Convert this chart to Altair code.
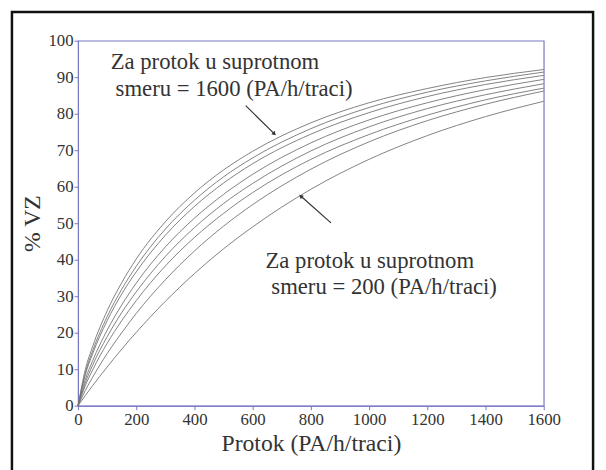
import altair as alt
import pandas as pd

# Flow (PA/h/traci) sample points
flow = [0, 25, 50, 100, 150, 200, 300, 400, 500, 600, 800, 1000, 1200, 1400, 1600]

# % VZ, one list per opposing flow
opposing = [200, 400, 600, 800, 1000, 1200, 1400, 1600]
vz = {
    200:  [0, 2.8, 5.5, 10.6, 15.5, 20.1, 28.6, 36.2, 43.0, 49.0, 59.3, 67.5, 74.0, 79.2, 83.4],
    400:  [0, 4.2, 7.8, 14.3, 20.0, 25.3, 34.5, 42.4, 49.2, 55.1, 64.8, 72.3, 78.1, 82.6, 86.2],
    600:  [0, 5.5, 9.8, 17.1, 23.3, 28.8, 38.3, 46.1, 52.7, 58.4, 67.5, 74.3, 79.6, 83.8, 87.0],
    800:  [0, 6.3, 11.1, 18.9, 25.5, 31.2, 40.9, 48.8, 55.4, 60.9, 69.8, 76.4, 81.4, 85.2, 88.2],
    1000: [0, 7.2, 12.3, 20.7, 27.6, 33.6, 43.5, 51.4, 57.9, 63.4, 72.0, 78.3, 83.0, 86.6, 89.4],
    1200: [0, 8.5, 14.2, 23.3, 30.6, 36.7, 46.7, 54.6, 61.0, 66.3, 74.4, 80.3, 84.7, 88.0, 90.5],
    1400: [0, 9.0, 15.0, 24.4, 31.9, 38.2, 48.4, 56.3, 62.7, 67.9, 75.9, 81.7, 85.9, 89.0, 91.4],
    1600: [0, 9.9, 16.2, 26.0, 33.7, 40.2, 50.4, 58.3, 64.6, 69.7, 77.5, 83.0, 86.9, 89.9, 92.1],
}

x_ticks = [0, 200, 400, 600, 800, 1000, 1200, 1400, 1600]
y_ticks = [0, 10, 20, 30, 40, 50, 60, 70, 80, 90, 100]

rows = []
for o in opposing:
    for f, v in zip(flow, vz[o]):
        rows.append({"flow": f, "vz": v, "opp": o})
df = pd.DataFrame(rows)

# Annotation texts
labels_text = ["Za protok u suprotnom", "smeru = 1600 (PA/h/traci)",
               "Za protok u suprotnom", "smeru = 200 (PA/h/traci)"]
labels_x = [112, 129, 644, 664]
labels_y = [94.0, 86.8, 39.7, 32.4]
txt_df = pd.DataFrame({"t": labels_text, "x": labels_x, "y": labels_y})

# Arrows (start -> tip) in data units
arr_x = [576, 869]
arr_y = [82.2, 50.1]
arr_x2 = [673, 767]
arr_y2 = [74.6, 57.3]
arr_angle = [134.5, 311.7]
arr_df = pd.DataFrame({"x": arr_x, "y": arr_y, "x2": arr_x2, "y2": arr_y2, "a": arr_angle})

FONT = "Liberation Serif"
BLUE = "#7878c4"

xs = alt.Scale(domain=[0, 1600], nice=False)
ys = alt.Scale(domain=[0, 100], nice=False)

AX = alt.Axis(values=x_ticks, title="Protok (PA/h/traci)", format="d",
              grid=False, domainColor=BLUE, tickColor=BLUE, tickSize=4,
              labelFont=FONT, labelFontSize=17, labelColor="#333333", labelPadding=2,
              labelOverlap=False,
              titleFont=FONT, titleFontSize=24, titleFontWeight="normal",
              titleColor="#333333", titlePadding=4, labelFlush=False)
AY = alt.Axis(values=y_ticks, title="% VZ", format="d",
              grid=False, domainColor=BLUE, tickColor=BLUE, tickSize=4,
              labelFont=FONT, labelFontSize=17, labelColor="#333333", labelPadding=1,
              labelOverlap=False,
              titleFont=FONT, titleFontSize=24, titleFontWeight="normal",
              titleColor="#333333", titlePadding=4, labelFlush=False)

lines = alt.Chart(df).mark_line(color="#737373", strokeWidth=0.9, interpolate="monotone").encode(
    x=alt.X("flow:Q", scale=xs, axis=AX),
    y=alt.Y("vz:Q", scale=ys, axis=AY),
    detail="opp:N",
)

texts = alt.Chart(txt_df).mark_text(font=FONT, fontSize=23, align="left", baseline="middle",
                                    color="#333333").encode(
    x=alt.X("x:Q", scale=xs, axis=AX), y=alt.Y("y:Q", scale=ys, axis=AY), text="t:N")

arrow_lines = alt.Chart(arr_df).mark_rule(color="#333333", strokeWidth=1.2).encode(
    x=alt.X("x:Q", scale=xs, axis=AX), y=alt.Y("y:Q", scale=ys, axis=AY), x2="x2:Q", y2="y2:Q")

arrow_heads = alt.Chart(arr_df).mark_point(shape="triangle", filled=True, size=22,
                                           color="#333333", opacity=1).encode(
    x=alt.X("x2:Q", scale=xs, axis=AX), y=alt.Y("y2:Q", scale=ys, axis=AY),
    angle=alt.Angle("a:Q", scale=None))

frame = alt.Chart(pd.DataFrame({"k": [0]})).mark_rect(
    fill=None, stroke="#111111", strokeWidth=2.5, clip=False).encode(
    x=alt.value(-67), x2=alt.value(522), y=alt.value(-29), y2=alt.value(440))

chart = alt.layer(frame, lines, arrow_lines, arrow_heads, texts).properties(
    width=472, height=370,
    autosize=alt.AutoSizeParams(type="none"),
    padding={"left": 71, "top": 30, "right": 55, "bottom": 62},
    background="white",
).configure_view(stroke=BLUE, strokeWidth=1.2)

chart.save("out.html", embed_options={"renderer": "svg", "actions": False})
